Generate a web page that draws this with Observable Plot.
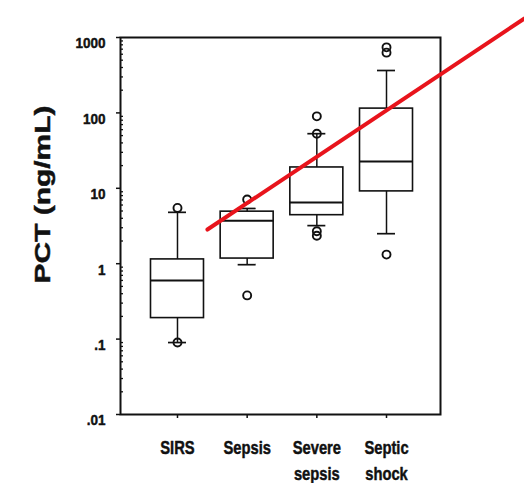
<!DOCTYPE html>
<html>
<head>
<meta charset="utf-8">
<script src="https://cdn.jsdelivr.net/npm/d3@7"></script>
<script src="https://cdn.jsdelivr.net/npm/@observablehq/plot@0.6"></script>
<style>
  html, body { margin: 0; padding: 0; background: #fff; }
  #chart svg { display: block; }
</style>
</head>
<body>
<div id="chart"></div>
<script>
// Categories (x positions 0..3)
const categories = ["SIRS", "Sepsis", "Severe\nsepsis", "Septic\nshock"];
// Box-plot statistics (PCT, ng/mL)
const q1 = [0.19, 1.17, 4.4, 9.1];
const median = [0.6, 3.7, 6.5, 22.7];
const q3 = [1.14, 4.9, 18.9, 114];
const whiskerLow = [0.09, 0.97, 3.2, 2.5];
const whiskerHigh = [4.8, 5.4, 53, 365];
// Outliers: category index and value
const outlierCat = [0, 0, 1, 1, 2, 2, 2, 2, 3, 3, 3];
const outlierVal = [5.5, 0.09, 7.1, 0.38, 53, 90, 2.7, 2.35, 630, 740, 1.32];
// Red trend line (x in category units, y in ng/mL)
const trendX = [0.43, 4.98];
const trendY = [2.84, 1786];
// Y axis ticks
const yTickValues = [0.01, 0.1, 1, 10, 100, 1000];
const yTickLabels = [".01", ".1", "1", "10", "100", "1000"];
const yTitle = "PCT (ng/mL)";

const boxes = categories.map((c, i) => ({
  i, c, q1: q1[i], median: median[i], q3: q3[i], lo: whiskerLow[i], hi: whiskerHigh[i]
}));
const outliers = outlierCat.map((c, k) => ({ i: c, v: outlierVal[k] }));
const trend = trendX.map((x, k) => ({ x, y: trendY[k] }));
const yTicks = yTickValues.map((v, k) => ({ v, label: yTickLabels[k] }));
const minorTicks = d3.scaleLog().domain([0.01, 1000]).ticks().filter(t => !yTickValues.includes(t));

const sans = "'Liberation Sans', Arial, Helvetica, sans-serif";
const heavy = { fontWeight: "bold", fontFamily: sans, fill: "#111", stroke: "#111", strokeWidth: 0.45 };

const chart = Plot.plot({
  width: 524,
  height: 483,
  marginTop: 37,
  marginBottom: 69,
  marginLeft: 120,
  marginRight: 84,
  style: { fontFamily: sans, color: "#111", background: "#fff" },
  x: { type: "linear", domain: [-0.818, 3.775] },
  y: { type: "log", domain: [0.01, 1000] },
  marks: [
    Plot.frame({ stroke: "#111", strokeWidth: 2 }),
    // whiskers
    Plot.ruleX(boxes, { x: "i", y1: "q3", y2: "hi", stroke: "#111", strokeWidth: 1.5 }),
    Plot.ruleX(boxes, { x: "i", y1: "lo", y2: "q1", stroke: "#111", strokeWidth: 1.5 }),
    // caps
    Plot.ruleY(boxes, { y: "hi", x1: "i", x2: "i", insetLeft: -9, insetRight: -9, stroke: "#111", strokeWidth: 1.7 }),
    Plot.ruleY(boxes, { y: "lo", x1: "i", x2: "i", insetLeft: -9, insetRight: -9, stroke: "#111", strokeWidth: 1.7 }),
    // boxes
    Plot.rect(boxes, { x1: "i", x2: "i", y1: "q1", y2: "q3", insetLeft: -26.5, insetRight: -26.5, fill: "none", stroke: "#111", strokeWidth: 1.6 }),
    // medians
    Plot.ruleY(boxes, { y: "median", x1: "i", x2: "i", insetLeft: -26.5, insetRight: -26.5, stroke: "#111", strokeWidth: 2 }),
    // outliers
    Plot.dot(outliers, { x: "i", y: "v", r: 4, stroke: "#111", strokeWidth: 1.9, fill: "none" }),
    // red trend line
    Plot.line(trend, { x: "x", y: "y", stroke: "#e8141c", strokeWidth: 4 }),
    // y axis: minor ticks inside, major ticks outside
    Plot.axisY({ ticks: minorTicks, tickSize: -3, text: null, label: null, strokeWidth: 1.3 }),
    Plot.axisY({ ticks: yTickValues, tickSize: 4, text: null, label: null, strokeWidth: 1.5 }),
    Plot.text(yTicks, {
      y: "v", text: "label", frameAnchor: "left", textAnchor: "end", lineAnchor: "middle",
      dx: -15, dy: 6, fontSize: 15, ...heavy
    }),
    // x axis ticks
    Plot.axisX({ ticks: [0, 1, 2, 3], tickSize: 4, text: null, label: null, strokeWidth: 1.5 }),
    // x labels
    Plot.text(categories, {
      x: (d, i) => i, frameAnchor: "bottom", lineAnchor: "top", dy: 21, lineHeight: 1.45,
      fontSize: 18, ...heavy
    }),
    // y title
    Plot.text([yTitle], {
      frameAnchor: "left", textAnchor: "middle", lineAnchor: "middle", dx: -78, dy: -31.5, rotate: -90,
      fontSize: 22, ...heavy
    })
  ]
});

document.getElementById("chart").appendChild(chart);

// Condense / stretch texts horizontally (about their anchor) as in the reference
const yLabelSet = new Set(yTickLabels);
const catSet = new Set(categories.map(c => c.replace("\n", "")));
chart.querySelectorAll("text").forEach(t => {
  const content = t.textContent;
  const tr = t.getAttribute("transform") || "";
  if (content === yTitle) {
    const len = t.getComputedTextLength();
    t.setAttribute("transform", tr + ` scale(${178 / len},1)`);
  } else if (yLabelSet.has(content)) {
    t.setAttribute("transform", tr + " scale(0.9,1)");
  } else if (catSet.has(content)) {
    t.setAttribute("transform", tr + " scale(0.82,1)");
  }
});
</script>
</body>
</html>
